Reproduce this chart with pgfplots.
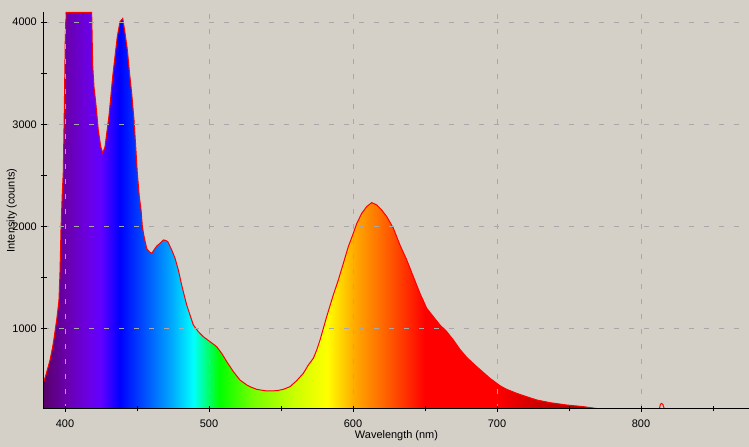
\documentclass[border=0pt]{standalone}
\usepackage{fontspec}
\setmainfont{Liberation Sans}
\usepackage{pgfplots}
\usepackage{pgfplotstable}
\pgfplotsset{compat=1.18}
\definecolor{bg}{RGB}{212,208,200}
\definecolor{gridc}{RGB}{168,168,168}
% horizontal spectrum shading; 25bp..75bp = 385.4..875 nm
\pgfdeclarehorizontalshading{spectrum}{100bp}{
 rgb(0bp)=(0.35,0,0.42);
 rgb(25bp)=(0.35,0,0.42);
 rgb(26.49bp)=(0.41,0,0.66);
 rgb(28.02bp)=(0.42,0,0.88);
 rgb(29.04bp)=(0.38,0,1);
 rgb(30.37bp)=(0,0,1);
 rgb(32.62bp)=(0,0.40,1);
 rgb(34.15bp)=(0,0.68,1);
 rgb(35.58bp)=(0,1,1);
 rgb(37.42bp)=(0,1,0);
 rgb(39.77bp)=(0.45,1,0);
 rgb(42.83bp)=(0.8,1,0);
 rgb(45.08bp)=(1,1,0);
 rgb(46.92bp)=(1,0.68,0);
 rgb(49.47bp)=(1,0.35,0);
 rgb(52.02bp)=(1,0,0);
 rgb(57.13bp)=(1,0,0);
 rgb(59.17bp)=(0.85,0,0);
 rgb(63.26bp)=(0.65,0,0);
 rgb(64.79bp)=(0.55,0,0);
 rgb(75bp)=(0.55,0,0);
 rgb(100bp)=(0.55,0,0)}
\pgfplotstableread{
x y
385.4 490
386.5 540
387.5 590
388.5 640
389.6 697
390.8 780
391.9 863
393.0 970
394.2 1088
395.0 1180
395.8 1283
396.5 1547
397.2 1968
398.1 2329
398.8 2535
399.5 3141
400.2 3854
400.7 4095
418.5 4095
419.2 3581
420.1 3369
421.5 3190
423.1 2945
424.8 2782
426.2 2720
427.8 2782
429.0 2916
430.6 3092
431.9 3287
433.1 3466
434.7 3662
436.3 3858
438.2 4004
440.1 4035
441.7 3889
443.3 3727
444.7 3515
446.3 3303
447.9 3043
449.1 2782
450.2 2525
451.6 2293
452.8 2163
453.7 2000
454.9 1902
456.7 1787
458.5 1755
460.2 1739
462.5 1787
464.0 1815
466.0 1837
468.3 1870
470.0 1865
471.3 1854
474.1 1772
476.4 1691
478.7 1577
481.0 1430
483.3 1300
484.5 1235
486.8 1137
489.1 1039
492.6 974
496.0 925
500.7 876
505.3 827
508.8 762
512.3 681
516.9 583
521.5 501
526.2 453
528.5 436
533.1 410
540.1 394
547.0 397
551.6 410
556.2 436
560.9 495
565.5 567
569.0 648
572.5 715
574.8 795
577.1 892
581.7 1120
586.3 1332
589.8 1479
593.3 1642
596.7 1804
600.2 1935
602.6 2031
606.0 2129
609.5 2196
613.0 2235
616.5 2212
619.9 2163
623.4 2099
628.0 1985
632.6 1821
637.3 1675
641.9 1511
646.5 1348
651.2 1202
655.8 1120
660.4 1039
665.1 974
669.7 892
674.3 800
679.0 722
685.9 632
695.1 518
702.1 445
706.7 410
713.7 371
720.6 338
727.6 306
736.8 280
748.4 257
759.9 241
768.0 225
773.8 215
776.0 200
790.0 185
811.0 185
812.5 205
813.5 265
814.3 272
815.2 262
816.5 205
818.0 185
875.0 185
}\spec
\begin{document}
\begin{tikzpicture}
\fill[bg] (0,0) rectangle (749bp,447bp);
\useasboundingbox (0,0) rectangle (749bp,447bp);
\begin{axis}[
 at={(44bp,38bp)}, anchor=south west,
 scale only axis, width=705bp, height=397bp,
 xmin=385.4, xmax=875, ymin=218, ymax=4098,
 axis x line*=bottom, axis y line*=left,
 axis line style={black, line width=1bp, -},
 xtick={400,500,...,800}, minor xtick={450,550,...,850},
 ytick={1000,2000,3000,4000}, minor ytick={1500,2500,3500},
 tick align=center, major tick length=6bp, minor tick length=5bp,
 every tick/.style={black, line width=1bp},
 xmajorgrids, ymajorgrids,
 major grid style={gridc, line width=1bp, dash pattern=on 5bp off 10bp},
 axis on top,
 /pgf/number format/assume math mode=true,
 /pgf/number format/1000 sep={},
 ticklabel style={font=\fontsize{11}{13}\selectfont},
 xticklabel style={anchor=north, inner sep=0pt, yshift=-7.5bp},
 yticklabel style={anchor=east, inner sep=0pt, xshift=-4bp},
 xlabel={Wavelength (nm)}, ylabel={Intensity (counts)},
 label style={font=\fontsize{11}{13}\selectfont, inner sep=0pt},
 xlabel style={at={(axis description cs:0.5,-0.0743)}, anchor=base},
 ylabel style={at={(axis description cs:-0.0418,0.5)}, anchor=base},
]
\addplot[draw=none, shading=spectrum, no marks]
  table[y expr={ifthenelse(\thisrow{x}>800,185,\thisrow{y})}] {\spec} \closedcycle;
\addplot[red, line width=1bp, no marks] table {\spec};
\end{axis}
\end{tikzpicture}
\end{document}
